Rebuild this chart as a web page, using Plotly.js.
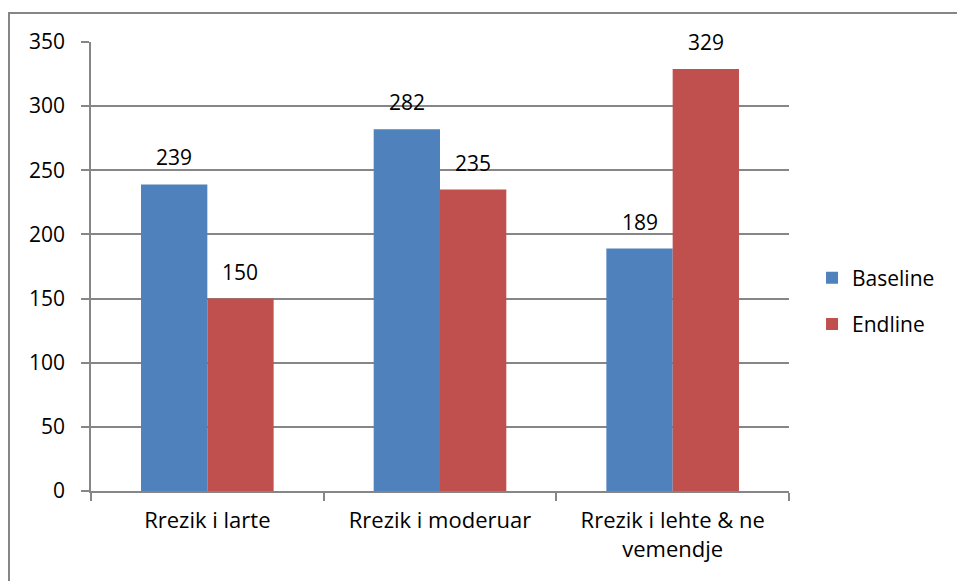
<!DOCTYPE html>
<html>
<head>
<meta charset="utf-8">
<script src="https://cdn.plot.ly/plotly-3.0.1.min.js"></script>
<style>
html,body{margin:0;padding:0;background:#fff;}
#frame{position:absolute;left:8px;top:12px;width:960px;height:600px;border:2px solid #868686;box-sizing:border-box;}
#chart{position:absolute;left:0;top:0;width:957px;height:581px;}
</style>
</head>
<body>
<div id="frame"></div>
<div id="chart"></div>
<script>
const categories = ["Rrezik i larte", "Rrezik i moderuar", "Rrezik i lehte & ne<br>vemendje"];
const baseline = [239, 282, 189];
const endline = [150, 235, 329];
const seriesNames = ["Baseline", "Endline"];
const yTicks = [0, 50, 100, 150, 200, 250, 300, 350];

const font = {family: "Open Sans, Liberation Sans, sans-serif", size: 21, color: "#000"};
const xfont = {family: "Open Sans, Liberation Sans, sans-serif", size: 22, color: "#000"};
const traces = [
  {type: "bar", name: seriesNames[0], legendgroup: "a", x: categories, y: baseline, marker: {color: "#4F81BD"}},
  {type: "bar", name: seriesNames[1], legendgroup: "b", x: categories, y: endline, marker: {color: "#C0504D"}}
];
const annotations = [];
[[baseline, -33], [endline, 33]].forEach(([vals, dx]) => {
  vals.forEach((v, i) => annotations.push({
    x: categories[i], y: v, xref: "x", yref: "y", text: String(v), showarrow: false,
    xanchor: "center", yanchor: "bottom", xshift: dx, yshift: 11, font: font
  }));
});
const layout = {
  width: 957, height: 581,
  margin: {l: 91, r: 168, t: 42, b: 90},
  paper_bgcolor: "rgba(0,0,0,0)", plot_bgcolor: "rgba(0,0,0,0)",
  font: font,
  barmode: "group", bargap: 0.43, bargroupgap: 0,
  showlegend: true,
  legend: {x: 1.033, y: 0.423, xanchor: "left", yanchor: "middle", font: font, traceorder: "grouped", tracegroupgap: 16, itemwidth: 30},
  annotations: annotations,
  xaxis: {type: "category", showline: true, linecolor: "#868686", linewidth: 1.5, ticks: "outside",
          tickson: "boundaries", ticklen: 8, tickcolor: "#868686", tickwidth: 1.5, showgrid: false,
          tickfont: xfont, ticklabelstandoff: 9},
  yaxis: {range: [0, 350], tickvals: yTicks, showline: true, linecolor: "#868686", linewidth: 1.5,
          ticks: "outside", ticklen: 8, tickcolor: "#868686", tickwidth: 1.5, showgrid: true,
          gridcolor: "#868686", gridwidth: 1.5, zeroline: false, tickfont: font, ticklabelstandoff: 12}
};
Plotly.newPlot("chart", traces, layout, {displayModeBar: false});
</script>
</body>
</html>
